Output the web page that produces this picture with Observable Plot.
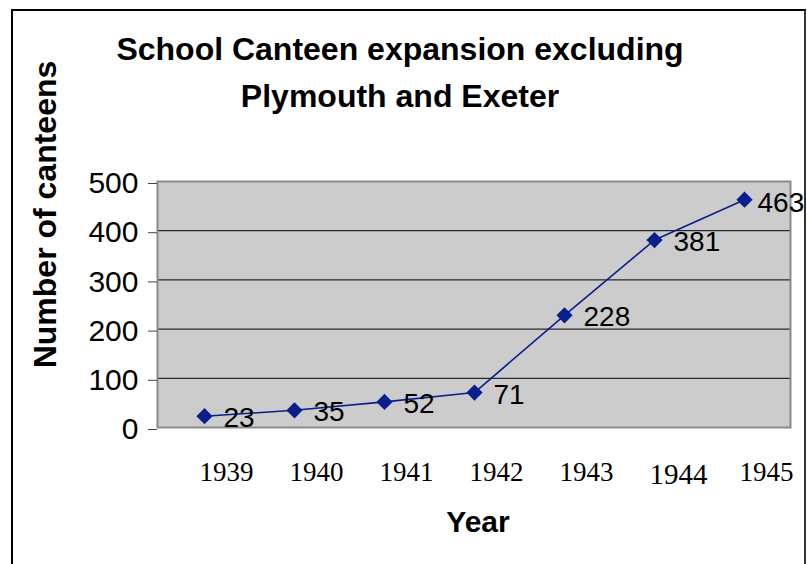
<!DOCTYPE html>
<html>
<head>
<meta charset="utf-8">
<script src="https://cdn.jsdelivr.net/npm/d3@7"></script>
<script src="https://cdn.jsdelivr.net/npm/@observablehq/plot@0.6"></script>
<style>
  html, body { margin: 0; padding: 0; background: #fff; overflow: hidden; width: 807px; height: 564px; }
  #wrap { position: relative; width: 807px; height: 564px; }
  #border { position: absolute; left: 11px; top: 9px; width: 795px; height: 620px; box-sizing: border-box;
            border: 2px solid #000; border-right-color: #333; pointer-events: none; }
</style>
</head>
<body>
<div id="wrap"><div id="chart"></div><div id="border"></div></div>
<script>
const years = [1939, 1940, 1941, 1942, 1943, 1944, 1945];
const canteens = [23, 35, 52, 71, 228, 381, 463];
const yTicks = [0, 100, 200, 300, 400, 500];
const gridTicks = [100, 200, 300, 400];
const titleText = "School Canteen expansion excluding\nPlymouth and Exeter";
const yLabel = "Number of canteens";
const xLabel = "Year";

const data = years.map((year, i) => ({year, count: canteens[i]}));
const sans = "'Liberation Sans', Arial, Helvetica, sans-serif";
const serif = "'Liberation Serif', 'Times New Roman', Times, serif";
const navy = "#0a1e8c";

const chart = Plot.plot({
  width: 807,
  height: 564,
  marginLeft: 157,
  marginRight: 17,
  marginTop: 181,
  marginBottom: 137,
  style: {fontFamily: sans, background: "transparent", color: "#000", overflow: "visible"},
  x: {type: "point", domain: years, padding: 0.5, label: null, axis: null},
  y: {domain: [0, 500], label: null, axis: null},
  marks: [
    Plot.frame({fill: "#cccccc", stroke: null}),
    Plot.gridY(gridTicks, {stroke: "#000", strokeOpacity: 1, strokeWidth: 1}),
    Plot.frame({stroke: "#8a8a8a", strokeWidth: 2}),
    Plot.axisY(yTicks, {tickSize: 9, tickPadding: 10, fontSize: 30, stroke: "#444", dy: 2, label: null}),
    Plot.axisX(years.filter(y => y !== 1944), {tickSize: 0, tickPadding: 34, fontSize: 27, fontFamily: serif, dx: 22, label: null, tickFormat: d => String(d)}),
    Plot.axisX([1944], {tickSize: 0, tickPadding: 36, fontSize: 29, fontFamily: serif, dx: 24, label: null, tickFormat: d => String(d)}),
    Plot.line(data, {x: "year", y: "count", stroke: navy, strokeWidth: 1.6}),
    Plot.dot(data, {x: "year", y: "count", symbol: "diamond2", r: 7.3, fill: navy, stroke: null}),
    Plot.text(data.slice(0, -1), {x: "year", y: "count", text: d => String(d.count), textAnchor: "start", dx: 19, dy: 2, fontSize: 28, fill: "#000"}),
    Plot.text(data.slice(-1), {x: "year", y: "count", text: d => String(d.count), textAnchor: "start", dx: 13, dy: 3, fontSize: 28, fill: "#000"}),
    Plot.text([titleText], {frameAnchor: "top", textAnchor: "middle", lineAnchor: "top", lineHeight: 1.45, dx: -74, dy: -154, fontSize: 32, fontWeight: "bold", fill: "#000"}),
    Plot.text([yLabel], {frameAnchor: "left", textAnchor: "middle", rotate: -90, dx: -112, dy: -90, fontSize: 32, fontWeight: "bold", fill: "#000"}),
    Plot.text([xLabel], {frameAnchor: "bottom", textAnchor: "middle", dx: 4, dy: 104, fontSize: 30, fontWeight: "bold", fill: "#000"})
  ]
});
document.getElementById("chart").appendChild(chart);
</script>
</body>
</html>
